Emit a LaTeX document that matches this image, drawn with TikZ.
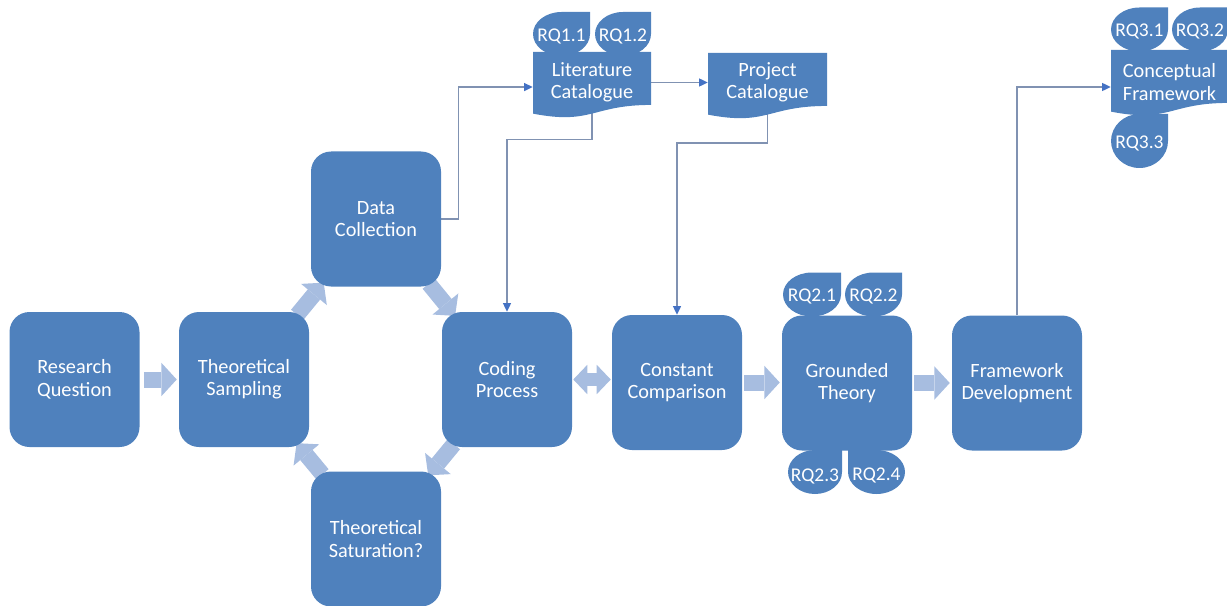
\documentclass[tikz,border=0pt]{standalone}
\usepackage{fontspec}
\setmainfont{Carlito}
\usetikzlibrary{arrows.meta,backgrounds}

\definecolor{boxblue}{RGB}{79,129,189}
\definecolor{flowblue}{RGB}{167,189,224}
\definecolor{linegrey}{RGB}{128,146,178}
\definecolor{tipblue}{RGB}{68,114,196}

\newcommand\boxfont{\fontsize{15.2pt}{16.8pt}\selectfont}
\newcommand\tabfont{\fontsize{14.6pt}{16.8pt}\selectfont}

% teardrop: centre, half width, half height, 1 = sharp top-right / -1 = sharp top-left
\newcommand\tdrop[4]{%
  \fill[boxblue, shift={#1}, xscale=#4]
    (#2,-#3) -- (#2,0)
    .. controls (#2,0.5523*#3) and (0.5523*#2,#3) .. (0,#3)
    .. controls (-0.5523*#2,#3) and (-#2,0.5523*#3) .. (-#2,0)
    .. controls (-#2,-0.5523*#3) and (-0.5523*#2,-#3) .. (0,-#3) -- cycle;}

% flowchart document shape: left, top, width, height
\newcommand\docshape[4]{%
  \fill[boxblue, shift={(#1,#2)}]
    (0,0) -- (#3,0) -- (#3,0.802*#4)
    .. controls (0.5*#3,0.802*#4) and (0.5*#3,1.1075*#4) .. (0,0.934*#4) -- cycle;}

\tikzset{
  stage/.style={rectangle, rounded corners=15pt, fill=boxblue,
    minimum width=97.5pt, minimum height=101.25pt, inner sep=0pt,
    text=white, align=center, font=\boxfont},
  doc/.style={rectangle, minimum height=40pt, inner sep=0pt,
    text=white, align=center, font=\boxfont},
  rqlabel/.style={inner sep=0pt, text=white, font=\tabfont},
  flow/.style={draw=flowblue, line width=12pt,
    -{Triangle[length=11.5pt,width=25pt,line width=0pt]}},
  flowboth/.style={draw=flowblue, line width=10pt,
    {Triangle[length=10.5pt,width=22pt,line width=0pt]}-{Triangle[length=10.5pt,width=22pt,line width=0pt]}},
  link/.style={draw=linegrey, line width=1pt,
    -{Triangle[length=6.5pt,width=6pt,color=tipblue]}},
}

\begin{document}
\begin{tikzpicture}[x=0.75pt, y=-0.75pt]
\useasboundingbox (0,0) rectangle (1227,606);

% document shapes
\docshape{533}{52}{118}{66}
\docshape{708}{53}{119}{66}
\docshape{1111}{50}{117}{66}

% research-question tabs
\tdrop{(561.5,34)}{28.5}{22}{1}
\tdrop{(623,34)}{28}{22}{1}
\tdrop{(812,294.5)}{29}{22}{1}
\tdrop{(873.5,294.5)}{28.5}{22}{1}
\tdrop{(815,472)}{27}{22}{1}
\tdrop{(876.5,472)}{28.5}{22}{-1}
\tdrop{(1139.5,29.5)}{28.5}{22}{1}
\tdrop{(1200,29.5)}{28}{22}{1}
\tdrop{(1139.5,141)}{28.5}{27}{1}

% process stages
\node[stage] (rq)  at (74.5,379.5) {Research\\Question};
\node[stage] (ts)  at (244,379.5)  {Theoretical\\Sampling};
\node[stage] (dc)  at (376,219)    {Data\\Collection};
\node[stage] (cp)  at (507,379.5)  {Coding\\Process};
\node[stage] (sat) at (376,539)    {Theoretical\\Saturation?};
\node[stage] (cc)  at (677,382.5)  {Constant\\Comparison};
\node[stage] (gt)  at (847,383)    {Grounded\\Theory};
\node[stage] (fd)  at (1017,383)   {Framework\\Development};

% catalogues and framework
\node[doc, minimum width=88.5pt]  (lit) at (592,82.5)   {Literature\\Catalogue};
\node[doc, minimum width=89.25pt] (pc)  at (767.5,82)   {Project\\Catalogue};
\node[doc, minimum width=87.75pt] (cf)  at (1169.5,82)  {Conceptual\\Framework};

% research-question labels
\node[rqlabel] (q11) at (561.5,36) {RQ1.1};
\node[rqlabel] (q12) at (623,36)   {RQ1.2};
\node[rqlabel] (q21) at (812,296)  {RQ2.1};
\node[rqlabel] (q22) at (873.5,296) {RQ2.2};
\node[rqlabel] (q23) at (815,476)  {RQ2.3};
\node[rqlabel] (q24) at (876.5,475) {RQ2.4};
\node[rqlabel] (q31) at (1139.5,31) {RQ3.1};
\node[rqlabel] (q32) at (1200,31)   {RQ3.2};
\node[rqlabel] (q33) at (1139.5,143) {RQ3.3};

\begin{scope}[on background layer]
  % block arrows of the sampling cycle and the main flow
  \draw[flow, shorten <=3pt, shorten >=1.5pt] (rq) -- (ts);
  \draw[flow, shorten <=-3pt, shorten >=-4pt] (ts) -- (dc);
  \draw[flow, shorten <=-3pt, shorten >=-4pt] (dc) -- (cp);
  \draw[flow, shorten <=-3pt, shorten >=-4pt] (cp) -- (sat);
  \draw[flow, shorten <=-3pt, shorten >=-4pt] (sat) -- (ts);
  \draw[flowboth, shorten <=0.75pt, shorten >=0.75pt] (cp) -- (cp -| cc.west);
  \draw[flow, shorten <=1.5pt, shorten >=1.5pt] (cc) -- (cc -| gt.west);
  \draw[flow, shorten <=1.5pt, shorten >=1.5pt] (gt) -- (gt -| fd.west);

  % elbow connectors
  \draw[link] (dc.east) -- ++(17,0) |- ([yshift=-3.4pt]lit.west);
  \draw[link] (lit.east) -- (lit.east -| pc.west);
  \draw[link] (lit.south) -- ++(0,30) -| (cp.north);
  \draw[link] (pc.south) -- ++(0,34) -| (cc.north);
  \draw[link] (fd.north) |- ([yshift=-3.75pt]cf.west);
\end{scope}
\end{tikzpicture}
\end{document}
